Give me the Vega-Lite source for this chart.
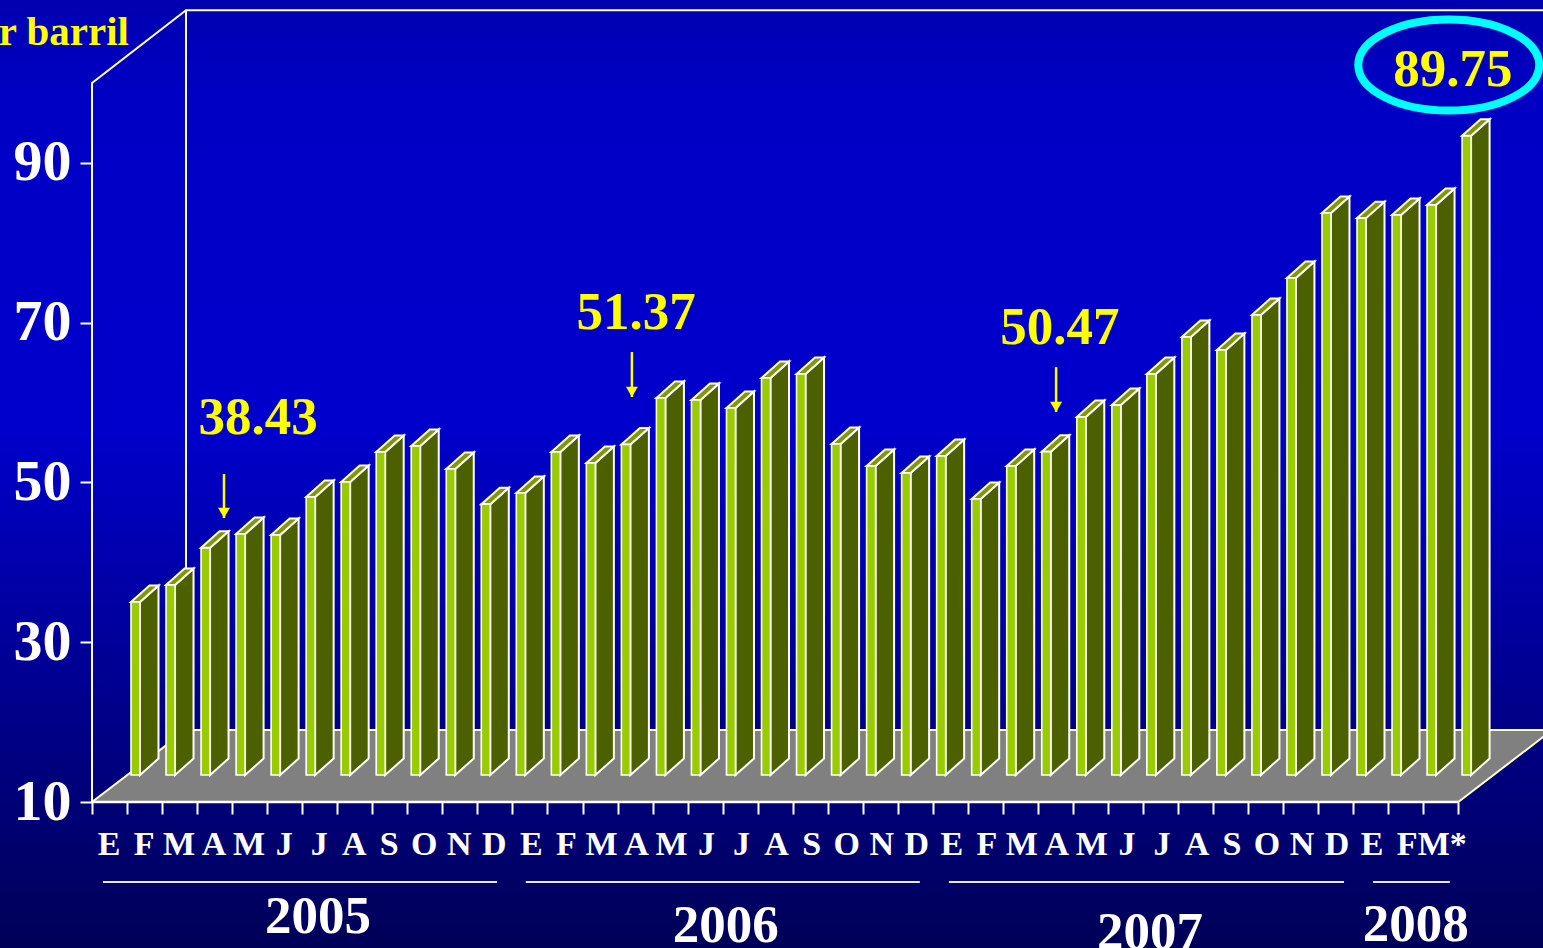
{
"$schema":"https://vega.github.io/schema/vega-lite/v6.json",
"width":1543,"height":948,"autosize":"none","padding":0,
"config":{"view":{"stroke":null},"text":{"font":"Liberation Serif","fontWeight":"bold"}},
"resolve":{"axis":{"x":"independent","y":"independent"}},
"datasets":{
"bars":[
{"idx":0,"month":"E","year":2005,"value":31.65},{"idx":1,"month":"F","year":2005,"value":33.78},{"idx":2,"month":"M","year":2005,"value":38.43},{"idx":3,"month":"A","year":2005,"value":40.16},{"idx":4,"month":"M","year":2005,"value":40.04},{"idx":5,"month":"J","year":2005,"value":44.79},{"idx":6,"month":"J","year":2005,"value":46.67},{"idx":7,"month":"A","year":2005,"value":50.43},{"idx":8,"month":"S","year":2005,"value":51.18},{"idx":9,"month":"O","year":2005,"value":48.3},{"idx":10,"month":"N","year":2005,"value":43.9},{"idx":11,"month":"D","year":2005,"value":45.3},
{"idx":12,"month":"E","year":2006,"value":50.43},{"idx":13,"month":"F","year":2006,"value":49.05},{"idx":14,"month":"M","year":2006,"value":51.37},{"idx":15,"month":"A","year":2006,"value":57.18},{"idx":16,"month":"M","year":2006,"value":56.93},{"idx":17,"month":"J","year":2006,"value":55.93},{"idx":18,"month":"J","year":2006,"value":59.69},{"idx":19,"month":"A","year":2006,"value":60.19},{"idx":20,"month":"S","year":2006,"value":51.43},{"idx":21,"month":"O","year":2006,"value":48.67},{"idx":22,"month":"N","year":2006,"value":47.8},{"idx":23,"month":"D","year":2006,"value":49.92},
{"idx":24,"month":"E","year":2007,"value":44.54},{"idx":25,"month":"F","year":2007,"value":48.67},{"idx":26,"month":"M","year":2007,"value":50.47},{"idx":27,"month":"A","year":2007,"value":54.8},{"idx":28,"month":"M","year":2007,"value":56.3},{"idx":29,"month":"J","year":2007,"value":60.19},{"idx":30,"month":"J","year":2007,"value":64.82},{"idx":31,"month":"A","year":2007,"value":63.19},{"idx":32,"month":"S","year":2007,"value":67.57},{"idx":33,"month":"O","year":2007,"value":72.2},{"idx":34,"month":"N","year":2007,"value":80.34},{"idx":35,"month":"D","year":2007,"value":79.7},
{"idx":36,"month":"E","year":2008,"value":80.09},{"idx":37,"month":"F","year":2008,"value":81.34},{"idx":38,"month":"M*","year":2008,"value":90.0}],
"frame":[
{"seg":"a","i":0,"x":-1.113,"y":10},{"seg":"a","i":1,"x":-1.113,"y":100},{"seg":"a","i":2,"x":1.57,"y":109.1},{"seg":"a","i":3,"x":41,"y":109.1},
{"seg":"b","i":0,"x":1.57,"y":109.1},{"seg":"b","i":1,"x":1.57,"y":19}],
"floor":[{"i":0,"x":-1.113,"y":10},{"i":1,"x":37.89,"y":10},{"i":2,"x":40.57,"y":19},{"i":3,"x":1.57,"y":19}],
"years":[
{"year":"2005","start":-0.8,"end":10.45,"mid":5.34,"base":-6.4},
{"year":"2006","start":11.27,"end":22.52,"mid":16.98,"base":-7.55},
{"year":"2007","start":23.35,"end":34.63,"mid":29.09,"base":-8.35},
{"year":"2008","start":35.46,"end":37.65,"mid":36.68,"base":-7.35}],
"notes":[
{"label":"38.43","x":3.63,"y":56.05},{"label":"51.37","x":14.42,"y":69.2},{"label":"50.47","x":26.52,"y":67.32},{"label":"89.75","x":37.74,"y":99.66}],
"arrows":[{"x":2.655,"from":51.05,"to":45.54},{"x":14.3,"from":66.32,"to":60.69},{"x":26.41,"from":64.44,"to":58.81}]
},
"layer":[
{"data":{"values":[{"name":"fondo"}]},
 "mark":{"type":"rect","color":{"gradient":"linear","x1":0,"y1":0,"x2":0,"y2":1,"stops":[{"offset":0,"color":"#0000b0"},{"offset":0.1,"color":"#0000c4"},{"offset":0.45,"color":"#0000cc"},{"offset":0.76,"color":"#000088"},{"offset":1,"color":"#000058"}]}},
 "encoding":{
  "x":{"datum":-3.74,"type":"quantitative","scale":{"domain":[-3.74,40.31],"nice":false,"zero":false},"axis":null},
  "x2":{"datum":40.31},
  "y":{"datum":-8.27,"type":"quantitative","scale":{"domain":[-8.27,110.38],"nice":false,"zero":false},"axis":null},
  "y2":{"datum":110.38}}},
{"data":{"name":"frame"},
 "mark":{"type":"line","stroke":"#fffff0","strokeWidth":2},
 "encoding":{
  "x":{"field":"x","type":"quantitative","axis":{"orient":"bottom","offset":-146,"title":null,"grid":false,"domain":false,"labels":false,"zindex":1,"tickSize":12,"tickWidth":2,"tickColor":"#ffffff",
    "values":[-1.11,-0.11,0.89,1.89,2.89,3.89,4.89,5.89,6.89,7.89,8.89,9.89,10.89,11.89,12.89,13.89,14.89,15.89,16.89,17.89,18.89,19.89,20.89,21.89,22.89,23.89,24.89,25.89,26.89,27.89,28.89,29.89,30.89,31.89,32.89,33.89,34.89,35.89,36.89,37.89]}},
  "y":{"field":"y","type":"quantitative","axis":{"orient":"left","offset":-92,"title":null,"grid":false,"domain":false,"zindex":1,"values":[10,30,50,70,90],"tickSize":12,"tickWidth":2,"tickColor":"#ffffff","labelFont":"Liberation Serif","labelFontWeight":"bold","labelFontSize":58,"labelColor":"#ffffff","labelPadding":9}},
  "detail":{"field":"seg"},"order":{"field":"i"}}},
{"data":{"name":"floor"},
 "mark":{"type":"line","interpolate":"linear-closed","fill":"#808080","stroke":"#ffffcc","strokeWidth":2},
 "encoding":{"x":{"field":"x","type":"quantitative","axis":null},"y":{"field":"y","type":"quantitative","axis":null},"order":{"field":"i"}}},
{"data":{"values":[{"name":"borde"}]},
 "mark":{"type":"rule","color":"#ffffff","strokeWidth":2.5},
 "encoding":{"x":{"datum":-1.113,"type":"quantitative","axis":null},"x2":{"datum":37.89},"y":{"datum":10,"type":"quantitative","axis":null}}},
{"data":{"name":"bars"},
 "transform":[{"calculate":"[0,1,2,3]","as":"c"},{"flatten":["c"]},
  {"calculate":"datum.idx+[0.257,0.257,0.785,0.785][datum.c]","as":"px"},
  {"calculate":"[13.38,datum.value+3.38,datum.value+5.445,15.445][datum.c]","as":"py"}],
 "mark":{"type":"line","interpolate":"linear-closed","fill":"#4d6000","stroke":"#ffffff","strokeWidth":2,"strokeJoin":"miter"},
 "encoding":{"x":{"field":"px","type":"quantitative","axis":null},"y":{"field":"py","type":"quantitative","axis":null},"detail":{"field":"idx"},"order":{"field":"c"}}},
{"data":{"name":"bars"},
 "transform":[{"calculate":"[0,1,2,3]","as":"c"},{"flatten":["c"]},
  {"calculate":"datum.idx+[0,0.257,0.785,0.528][datum.c]","as":"px"},
  {"calculate":"datum.value+3.38+[0,0,2.065,2.065][datum.c]","as":"py"}],
 "mark":{"type":"line","interpolate":"linear-closed","fill":"#7f9900","stroke":"#ffffff","strokeWidth":2,"strokeJoin":"miter"},
 "encoding":{"x":{"field":"px","type":"quantitative","axis":null},"y":{"field":"py","type":"quantitative","axis":null},"detail":{"field":"idx"},"order":{"field":"c"}}},
{"data":{"name":"bars"},
 "transform":[{"calculate":"datum.idx+0.257","as":"x1"},{"calculate":"datum.value+3.38","as":"top"}],
 "mark":{"type":"rect","fill":"#99cc00","stroke":"#ffffff","strokeWidth":1.6},
 "encoding":{"x":{"field":"idx","type":"quantitative","axis":null},"x2":{"field":"x1"},"y":{"field":"top","type":"quantitative","axis":null},"y2":{"datum":13.38}}},
{"data":{"name":"bars"},
 "transform":[{"calculate":"datum.idx-0.628+(datum.idx>=12?0.06:0)","as":"lx"}],
 "mark":{"type":"text","color":"#ffffff","fontSize":34,"align":"center","baseline":"alphabetic"},
 "encoding":{"x":{"field":"lx","type":"quantitative","axis":null},"y":{"datum":3.37,"type":"quantitative","axis":null},"text":{"field":"month"}}},
{"data":{"name":"years"},
 "mark":{"type":"rule","color":"#e8e8f8","strokeWidth":2},
 "encoding":{"x":{"field":"start","type":"quantitative","axis":null},"x2":{"field":"end"},"y":{"datum":0,"type":"quantitative","axis":null}}},
{"data":{"name":"years"},
 "mark":{"type":"text","color":"#ffffff","fontSize":53,"align":"center","baseline":"alphabetic"},
 "encoding":{"x":{"field":"mid","type":"quantitative","axis":null},"y":{"field":"base","type":"quantitative","axis":null},"text":{"field":"year"}}},
{"data":{"name":"notes"},
 "mark":{"type":"text","color":"#ffff00","fontSize":53,"align":"center","baseline":"alphabetic"},
 "encoding":{"x":{"field":"x","type":"quantitative","axis":null},"y":{"field":"y","type":"quantitative","axis":null},"text":{"field":"label"}}},
{"data":{"values":[{"label":"r barril","x":-0.057,"y":104.74}]},
 "mark":{"type":"text","color":"#ffff00","fontSize":41,"align":"right","baseline":"alphabetic"},
 "encoding":{"x":{"field":"x","type":"quantitative","axis":null},"y":{"field":"y","type":"quantitative","axis":null},"text":{"field":"label"}}},
{"data":{"name":"arrows"},
 "mark":{"type":"rule","color":"#ffff00","strokeWidth":2.5},
 "encoding":{"x":{"field":"x","type":"quantitative","axis":null},"y":{"field":"from","type":"quantitative","axis":null},"y2":{"field":"to"}}},
{"data":{"name":"arrows"},
 "transform":[{"calculate":"datum.to+0.65","as":"head"}],
 "mark":{"type":"point","shape":"triangle-down","filled":true,"color":"#ffff00","size":144,"opacity":1},
 "encoding":{"x":{"field":"x","type":"quantitative","axis":null},"y":{"field":"head","type":"quantitative","axis":null}}},
{"data":{"values":[{"label":"89.75","x":37.62,"y":102.24}]},
 "mark":{"type":"point","shape":"M -1 0 A 1 0.503 0 1 1 1 0 A 1 0.503 0 1 1 -1 0 Z","filled":false,"stroke":"#00ffff","strokeWidth":8,"size":32761,"opacity":1},
 "encoding":{"x":{"field":"x","type":"quantitative","axis":null},"y":{"field":"y","type":"quantitative","axis":null}}}
]}
